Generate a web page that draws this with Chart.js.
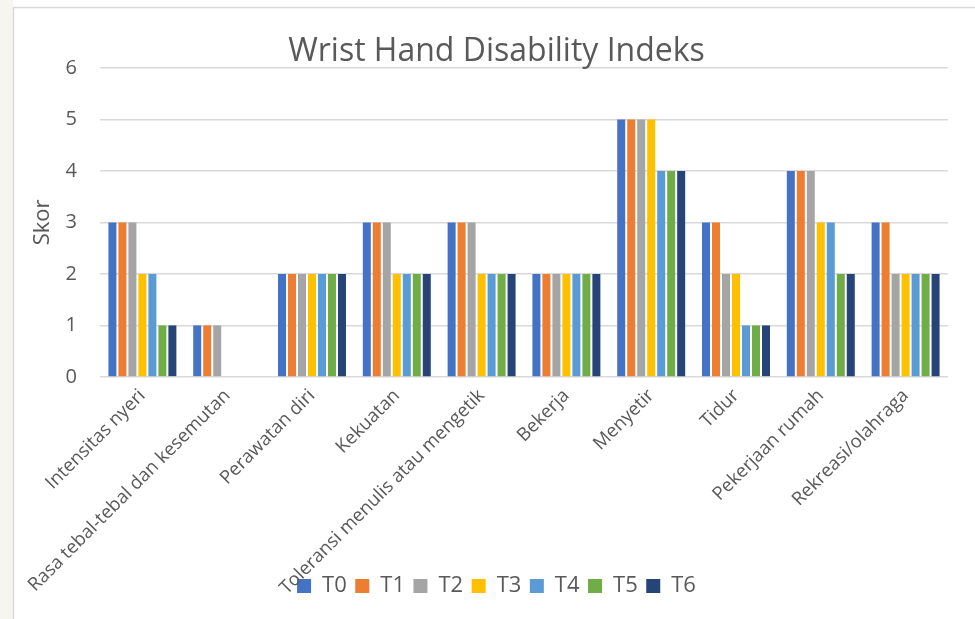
<!DOCTYPE html>
<html>
<head>
<meta charset="utf-8">
<script src="https://cdn.jsdelivr.net/npm/chart.js@4/dist/chart.umd.min.js"></script>
<style>
  html, body { margin: 0; padding: 0; background: #ffffff; }
  #wrap { width: 975px; height: 619px; }
</style>
</head>
<body>
<div id="wrap"><canvas id="c" width="975" height="619"></canvas></div>
<script>
const categories = [
  "Intensitas nyeri",
  "Rasa tebal-tebal dan kesemutan",
  "Perawatan diri",
  "Kekuatan",
  "Toleransi menulis atau mengetik",
  "Bekerja",
  "Menyetir",
  "Tidur",
  "Pekerjaan rumah",
  "Rekreasi/olahraga"
];
const seriesNames = ["T0", "T1", "T2", "T3", "T4", "T5", "T6"];
const T0 = [3, 1, 2, 3, 3, 2, 5, 3, 4, 3];
const T1 = [3, 1, 2, 3, 3, 2, 5, 3, 4, 3];
const T2 = [3, 1, 2, 3, 3, 2, 5, 2, 4, 2];
const T3 = [2, 0, 2, 2, 2, 2, 5, 2, 3, 2];
const T4 = [2, 0, 2, 2, 2, 2, 4, 1, 3, 2];
const T5 = [1, 0, 2, 2, 2, 2, 4, 1, 2, 2];
const T6 = [1, 0, 2, 2, 2, 2, 4, 1, 2, 2];
const yTicks = [0, 1, 2, 3, 4, 5, 6];
const seriesValues = [T0, T1, T2, T3, T4, T5, T6];
const seriesColors = ["#4472C4", "#ED7D31", "#A5A5A5", "#FFC000", "#5B9BD5", "#70AD47", "#264478"];

const FONT = "'Open Sans', 'Liberation Sans', sans-serif";
const TXT = "#595959";

const framePlugin = {
  id: 'frame',
  beforeDraw(chart) {
    const ctx = chart.ctx;
    ctx.save();
    ctx.fillStyle = '#ffffff';
    ctx.fillRect(0, 0, chart.width, chart.height);
    ctx.fillStyle = '#f7f5f0';
    ctx.fillRect(0, 0, 13, chart.height);
    ctx.strokeStyle = '#d9d9d9';
    ctx.lineWidth = 1.5;
    ctx.beginPath();
    ctx.moveTo(13.5, chart.height);
    ctx.lineTo(13.5, 7.5);
    ctx.lineTo(chart.width, 7.5);
    ctx.stroke();
    ctx.restore();
  }
};

// let the rotated category labels run down behind the legend, as in the original
const labelAreaPlugin = {
  id: 'labelArea',
  afterLayout(chart) {
    chart.scales.x.bottom = chart.height;
  }
};

new Chart(document.getElementById('c'), {
  type: 'bar',
  data: {
    labels: categories,
    datasets: seriesNames.map((n, i) => ({
      label: n,
      data: seriesValues[i],
      backgroundColor: seriesColors[i],
      borderWidth: 0
    }))
  },
  options: {
    responsive: false,
    animation: false,
    layout: { padding: { left: 18, right: 0, top: 8, bottom: 12 } },
    datasets: { bar: { barPercentage: 0.8, categoryPercentage: 0.825 } },
    plugins: {
      title: {
        display: true,
        text: "Wrist Hand Disability Indeks",
        color: TXT,
        font: { family: FONT, size: 32, weight: 'normal', lineHeight: 1 },
        padding: { top: 28, bottom: 0 }
      },
      legend: {
        position: 'bottom',
        labels: {
          color: TXT,
          font: { family: FONT, size: 22 },
          boxWidth: 14,
          boxHeight: 14,
          padding: 8.5
        }
      },
      tooltip: { enabled: false }
    },
    scales: {
      x: {
        grid: { display: false, drawTicks: false },
        border: { display: false },
        ticks: {
          color: TXT,
          font: { family: FONT, size: 18.5 },
          maxRotation: 45,
          minRotation: 45,
          padding: 8,
          autoSkip: false
        },
        afterFit(s) { s.height = 189.6; }
      },
      y: {
        min: 0,
        max: 6,
        afterBuildTicks(s) { s.ticks = yTicks.map(v => ({ value: v })); },
        grid: { color: '#d9d9d9', lineWidth: 1.5, drawTicks: false },
        border: { display: false },
        ticks: {
          color: TXT,
          font: { family: FONT, size: 20 },
          padding: 23
        },
        title: {
          display: true,
          text: "Skor",
          color: TXT,
          font: { family: FONT, size: 22, weight: 'normal' },
          padding: { top: 12, bottom: 0 }
        },
        afterFit(s) { s.width = 82; }
      },
      y2: {
        position: 'right',
        display: true,
        grid: { display: false, drawTicks: false },
        border: { display: false },
        ticks: { display: false },
        afterFit(s) { s.width = 27; }
      }
    }
  },
  plugins: [framePlugin, labelAreaPlugin]
});
</script>
</body>
</html>
